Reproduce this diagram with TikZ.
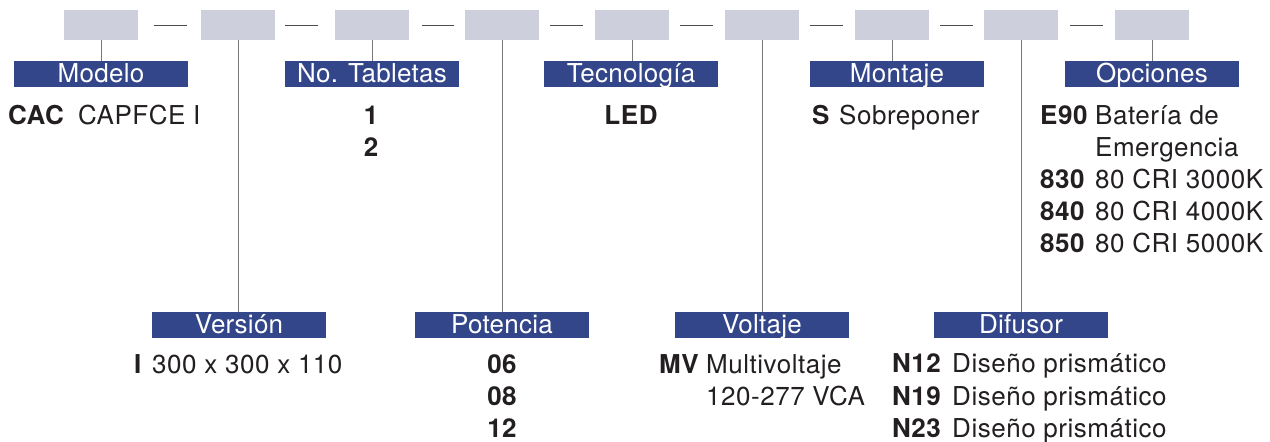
\documentclass[tikz,border=0pt]{standalone}
\usepackage{fontspec}
\setmainfont{TeX Gyre Heros}
\newfontfamily\bodyfont[LetterSpace=2]{TeX Gyre Heros}
\newfontfamily\labfont[LetterSpace=1]{TeX Gyre Heros}
\definecolor{boxgray}{HTML}{CDD0DC}
\definecolor{labblue}{HTML}{33468A}
\definecolor{ink}{HTML}{231F20}
\definecolor{linegray}{HTML}{77787B}
\definecolor{sepgray}{HTML}{4D4D4F}
\begin{document}
\begin{tikzpicture}[x=1pt,y=-1pt,
  codebox/.style={draw=none,fill=boxgray,minimum width=74pt,minimum height=30pt,inner sep=0pt,anchor=north west},
  catlabel/.style={fill=labblue,text=white,minimum width=174pt,minimum height=26pt,inner sep=0pt,
     text height=17pt,text depth=0pt,font=\labfont\fontsize{26}{30}\selectfont,anchor=north},
  body/.style={inner sep=0pt,text=ink,font=\bodyfont\fontsize{26}{30}\selectfont,anchor=base west},
  bodyc/.style={body,anchor=base},
  conn/.style={draw=linegray,line width=1pt},
  sepline/.style={draw=sepgray,line width=1.2pt}]
\useasboundingbox (0,0) rectangle (1270,442);
% code boxes
\node[codebox] (b1) at (64,10) {};
\node[codebox] (b2) at (201,10) {};
\node[codebox] (b3) at (335,10) {};
\node[codebox] (b4) at (465,10) {};
\node[codebox] (b5) at (595,10) {};
\node[codebox] (b6) at (725,10) {};
\node[codebox] (b7) at (855,10) {};
\node[codebox] (b8) at (984,10) {};
\node[codebox] (b9) at (1115,10) {};
% separators
\draw[sepline] ([xshift=16pt]b1.east) -- ([xshift=-14pt]b2.west);
\draw[sepline] ([xshift=10pt]b2.east) -- ([xshift=-17pt]b3.west);
\draw[sepline] ([xshift=13pt]b3.east) -- ([xshift=-11pt]b4.west);
\draw[sepline] ([xshift=11pt]b4.east) -- ([xshift=-12pt]b5.west);
\draw[sepline] ([xshift=11pt]b5.east) -- ([xshift=-12pt]b6.west);
\draw[sepline] ([xshift=11pt]b6.east) -- ([xshift=-12pt]b7.west);
\draw[sepline] ([xshift=11pt]b7.east) -- ([xshift=-11pt]b8.west);
\draw[sepline] ([xshift=12pt]b8.east) -- ([xshift=-12pt]b9.west);
% top labels
\node[catlabel] (lMod) at (101,61) {Modelo};
\node[catlabel] (lTab) at (372,61) {No. Tabletas};
\node[catlabel] (lTec) at (631,61) {Tecnología};
\node[catlabel] (lMon) at (897,61) {Montaje};
\node[catlabel] (lOpc) at (1152,61) {Opciones};
% bottom labels
\node[catlabel] (lVer) at (239,312) {Versión};
\node[catlabel] (lPot) at (502,312) {Potencia};
\node[catlabel] (lVol) at (762,312) {Voltaje};
\node[catlabel] (lDif) at (1021,312) {Difusor};
% connectors
\draw[conn] (b1.south) -- (b1.south |- lMod.north);
\draw[conn] (b3.south) -- (b3.south |- lTab.north);
\draw[conn] (b5.south) -- (b5.south |- lTec.north);
\draw[conn] (b7.south) -- (b7.south |- lMon.north);
\draw[conn] (b9.south) -- (b9.south |- lOpc.north);
\draw[conn] (b2.south) -- (b2.south |- lVer.north);
\draw[conn] (b4.south) -- (b4.south |- lPot.north);
\draw[conn] (b6.south) -- (b6.south |- lVol.north);
\draw[conn] (b8.south) -- (b8.south |- lDif.north);
% Modelo
\node[body] (tCAC) at (8,124.5) {\bfseries CAC};
\node[body] (tCAP) at (78,124.5) {CAPFCE I};
% No. Tabletas
\node[bodyc] (t1) at (371,124.5) {\bfseries 1};
\node[bodyc] (t2) at (371,156.5) {\bfseries 2};
% Tecnologia
\node[bodyc] (tLED) at (631,124.5) {\bfseries LED};
% Montaje
\node[body] (tS) at (812,124.5) {\bfseries S};
\node[body] (tSob) at (839,124.5) {Sobreponer};
% Opciones
\node[body] (tE90) at (1040,124.5) {\bfseries E90};
\node[body] (tBat) at (1095,124.5) {Batería de};
\node[body] (tEme) at (1095,156.5) {Emergencia};
\node[body] (t830) at (1040,188.5) {\bfseries 830};
\node[body] (t830d) at (1095,188.5) {80 CRI 3000K};
\node[body] (t840) at (1040,220.5) {\bfseries 840};
\node[body] (t840d) at (1095,220.5) {80 CRI 4000K};
\node[body] (t850) at (1040,252.5) {\bfseries 850};
\node[body] (t850d) at (1095,252.5) {80 CRI 5000K};
% Version
\node[body] (tI) at (134,373) {\bfseries I};
\node[body] (tDim) at (152,373) {300 x 300 x 110};
% Potencia
\node[bodyc] (t06) at (502,373) {\bfseries 06};
\node[bodyc] (t08) at (502,405) {\bfseries 08};
\node[bodyc] (t12) at (502,437) {\bfseries 12};
% Voltaje
\node[body] (tMV) at (659,373) {\bfseries MV};
\node[body] (tMul) at (706,373) {Multivoltaje};
\node[body] (tVCA) at (706,405.5) {120-277 VCA};
% Difusor
\node[body] (tN12) at (892,372.5) {\bfseries N12};
\node[body] (tN12d) at (952,372.5) {Diseño prismático};
\node[body] (tN19) at (892,405) {\bfseries N19};
\node[body] (tN19d) at (952,405) {Diseño prismático};
\node[body] (tN23) at (892,437) {\bfseries N23};
\node[body] (tN23d) at (952,437) {Diseño prismático};
\end{tikzpicture}
\end{document}
